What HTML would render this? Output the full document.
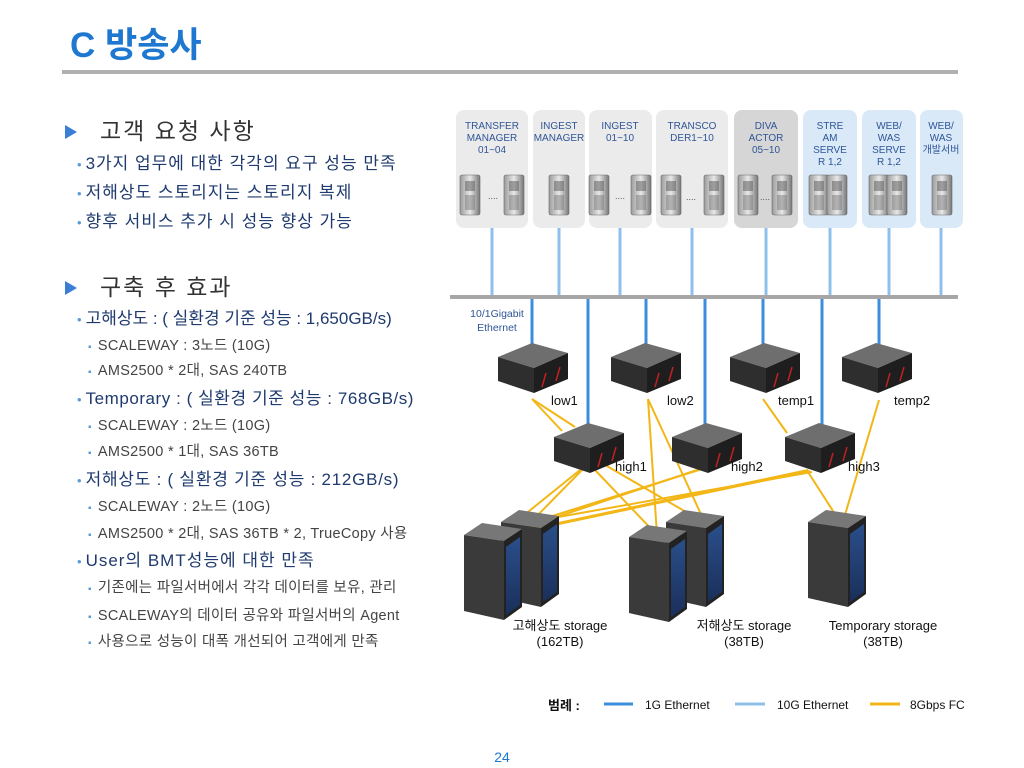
<!DOCTYPE html>
<html><head><meta charset="utf-8">
<style>
body{margin:0;width:1024px;height:768px;background:#fff;position:relative;overflow:hidden;font-family:"Liberation Sans","Noto Sans CJK KR",sans-serif}
.t{position:absolute;white-space:nowrap;line-height:20px}
.h{font-size:23px;letter-spacing:2px;color:#333;left:100px}
.tri{position:absolute;left:65px;width:0;height:0;border-left:12px solid #3a7fd5;border-top:7px solid transparent;border-bottom:7px solid transparent}
.b{font-size:17px;letter-spacing:1px;color:#1f3a6e;left:77px}
.b:before{content:"•";color:#5b9bd5;margin-right:4px;font-size:13px;letter-spacing:0}
.s{font-size:14.5px;letter-spacing:.3px;color:#444;left:88px}
.s:before{content:"▪";color:#5b9bd5;margin-right:6px;font-size:10px}
</style></head><body>
<div class="t" style="left:70px;top:26px;font-size:35px;line-height:40px;font-weight:bold;color:#1e78d0">C 방송사</div>
<div style="position:absolute;left:62px;top:70px;width:896px;height:4px;background:#b0b0b0"></div>

<div class="tri" style="top:125px"></div><div class="t h" style="top:121px">고객 요청 사항</div>
<div class="t b" style="top:154px">3가지 업무에 대한 각각의 요구 성능 만족</div>
<div class="t b" style="top:183px">저해상도 스토리지는 스토리지 복제</div>
<div class="t b" style="top:212px">향후 서비스 추가 시 성능 향상 가능</div>
<div class="tri" style="top:281px"></div><div class="t h" style="top:277px">구축 후 효과</div>
<div class="t b" style="top:309px;letter-spacing:0">고해상도 : ( 실환경 기준 성능 : 1,650GB/s)</div>
<div class="t s" style="top:336px">SCALEWAY : 3노드 (10G)</div>
<div class="t s" style="top:361px">AMS2500 * 2대, SAS 240TB</div>
<div class="t b" style="top:389px;letter-spacing:.55px">Temporary : ( 실환경 기준 성능 : 768GB/s)</div>
<div class="t s" style="top:416px">SCALEWAY : 2노드 (10G)</div>
<div class="t s" style="top:442px">AMS2500 * 1대, SAS 36TB</div>
<div class="t b" style="top:470px;letter-spacing:.75px">저해상도 : ( 실환경 기준 성능 : 212GB/s)</div>
<div class="t s" style="top:497px">SCALEWAY : 2노드 (10G)</div>
<div class="t s" style="top:524px">AMS2500 * 2대, SAS 36TB * 2, TrueCopy 사용</div>
<div class="t b" style="top:551px">User의 BMT성능에 대한 만족</div>
<div class="t s" style="top:578px">기존에는 파일서버에서 각각 데이터를 보유, 관리</div>
<div class="t s" style="top:606px">SCALEWAY의 데이터 공유와 파일서버의 Agent</div>
<div class="t s" style="top:632px">사용으로 성능이 대폭 개선되어 고객에게 만족</div>

<svg width="1024" height="768" style="position:absolute;left:0;top:0" font-family="Liberation Sans, Noto Sans CJK KR, sans-serif">
<defs>
<linearGradient id="sg" x1="0" x2="1"><stop offset="0" stop-color="#9a9a9a"/><stop offset=".5" stop-color="#e8e8e8"/><stop offset="1" stop-color="#777"/></linearGradient>
<linearGradient id="bp" x1="0" y1="0" x2="0" y2="1"><stop offset="0" stop-color="#2a4f8a"/><stop offset="1" stop-color="#1a2f5a"/></linearGradient>
<g id="srv"><rect x="0" y="0" width="20" height="40" rx="2" fill="url(#sg)" stroke="#666" stroke-width=".6"/><rect x="5" y="6" width="10" height="10" fill="#555" opacity=".5"/><rect x="5" y="20" width="10" height="15" fill="#666" opacity=".4"/></g>
<g id="sw"><polygon points="0,14 34,0 70,10 36,25" fill="#6e6e6e"/><polygon points="0,14 36,25 36,50 0,38" fill="#2e2e2e"/><polygon points="36,25 70,10 70,36 36,50" fill="#1e1e1e"/><path d="M44,44 l4,-14 M58,38 l4,-14" stroke="#c02020" stroke-width="1.5"/></g>
<g id="st"><polygon points="0,12 18,0 58,6 40,18" fill="#777"/><polygon points="0,12 40,18 40,97 0,88" fill="#3a3a3a"/><polygon points="40,18 58,6 58,84 40,97" fill="#222"/><polygon points="42,24 56,14 56,82 42,92" fill="url(#bp)"/></g>
</defs>
<g>
<rect x="456" y="110" width="72" height="118" rx="8" fill="#ebebeb"/>
<rect x="533" y="110" width="52" height="118" rx="8" fill="#ebebeb"/>
<rect x="589" y="110" width="63" height="118" rx="8" fill="#ebebeb"/>
<rect x="656" y="110" width="72" height="118" rx="8" fill="#ebebeb"/>
<rect x="734" y="110" width="64" height="118" rx="8" fill="#d6d6d6"/>
<rect x="803" y="110" width="54" height="118" rx="8" fill="#d9e9f8"/>
<rect x="862" y="110" width="54" height="118" rx="8" fill="#d9e9f8"/>
<rect x="920" y="110" width="43" height="118" rx="8" fill="#d9e9f8"/>
</g>
<g font-size="10" fill="#2f5597" text-anchor="middle">
<text x="492" y="129">TRANSFER</text><text x="492" y="141">MANAGER</text><text x="492" y="153">01~04</text>
<text x="559" y="129">INGEST</text><text x="559" y="141">MANAGER</text>
<text x="620" y="129">INGEST</text><text x="620" y="141">01~10</text>
<text x="692" y="129">TRANSCO</text><text x="692" y="141">DER1~10</text>
<text x="766" y="129">DIVA</text><text x="766" y="141">ACTOR</text><text x="766" y="153">05~10</text>
<text x="830" y="129">STRE</text><text x="830" y="141">AM</text><text x="830" y="153">SERVE</text><text x="830" y="165">R 1,2</text>
<text x="889" y="129">WEB/</text><text x="889" y="141">WAS</text><text x="889" y="153">SERVE</text><text x="889" y="165">R 1,2</text>
<text x="941" y="129">WEB/</text><text x="941" y="141">WAS</text><text x="941" y="153">개발서버</text>
</g>
<g>
<use href="#srv" x="460" y="175"/><use href="#srv" x="504" y="175"/>
<use href="#srv" x="549" y="175"/>
<use href="#srv" x="589" y="175"/><use href="#srv" x="631" y="175"/>
<use href="#srv" x="661" y="175"/><use href="#srv" x="704" y="175"/>
<use href="#srv" x="738" y="175"/><use href="#srv" x="772" y="175"/>
<use href="#srv" x="809" y="175"/><use href="#srv" x="827" y="175"/>
<use href="#srv" x="869" y="175"/><use href="#srv" x="887" y="175"/>
<use href="#srv" x="932" y="175"/>
</g>
<g font-size="9" fill="#555"><text x="488" y="199">....</text><text x="615" y="199">....</text><text x="686" y="200">....</text><text x="760" y="200">....</text></g>
<g stroke="#8fc0ec" stroke-width="3">
<line x1="492" y1="228" x2="492" y2="297"/><line x1="559" y1="228" x2="559" y2="297"/><line x1="620" y1="228" x2="620" y2="297"/><line x1="692" y1="228" x2="692" y2="297"/><line x1="766" y1="228" x2="766" y2="297"/><line x1="830" y1="228" x2="830" y2="297"/><line x1="889" y1="228" x2="889" y2="297"/><line x1="941" y1="228" x2="941" y2="297"/>
</g>
<line x1="450" y1="297" x2="958" y2="297" stroke="#a6a6a6" stroke-width="4"/>
<text x="497" y="317" font-size="10.5" fill="#2f5597" text-anchor="middle">10/1Gigabit</text>
<text x="497" y="331" font-size="10.5" fill="#2f5597" text-anchor="middle">Ethernet</text>
<g stroke="#3d8ddd" stroke-width="3">
<line x1="532" y1="299" x2="532" y2="345"/><line x1="588" y1="299" x2="588" y2="425"/><line x1="646" y1="299" x2="646" y2="345"/><line x1="705" y1="299" x2="705" y2="425"/><line x1="763" y1="299" x2="763" y2="345"/><line x1="822" y1="299" x2="822" y2="425"/><line x1="879" y1="299" x2="879" y2="345"/>
</g>
<g stroke="#f2b617" stroke-width="2" fill="none">
<line x1="532" y1="399" x2="562" y2="431"/><line x1="532" y1="399" x2="575" y2="427"/>
<line x1="580" y1="470" x2="497" y2="537"/><line x1="582" y1="470" x2="530" y2="523"/>
<line x1="595" y1="470" x2="657" y2="535"/><line x1="600" y1="462" x2="705" y2="523"/>
<line x1="648" y1="399" x2="657" y2="535"/><line x1="648" y1="399" x2="705" y2="523"/>
<line x1="700" y1="469" x2="497" y2="537"/><line x1="702" y1="469" x2="530" y2="523"/>
<line x1="810" y1="471" x2="497" y2="537"/><line x1="812" y1="472" x2="530" y2="522"/><line x1="808" y1="470" x2="502" y2="535"/>
<line x1="808" y1="472" x2="842" y2="525"/>
<line x1="763" y1="399" x2="787" y2="433"/>
<line x1="879" y1="400" x2="842" y2="525"/>
</g>
<use href="#sw" x="498" y="343"/><use href="#sw" x="611" y="343"/><use href="#sw" x="730" y="343"/><use href="#sw" x="842" y="343"/>
<use href="#sw" x="554" y="423"/><use href="#sw" x="672" y="423"/><use href="#sw" x="785" y="423"/>
<g font-size="13" fill="#111">
<text x="551" y="405">low1</text><text x="667" y="405">low2</text><text x="778" y="405">temp1</text><text x="894" y="405">temp2</text>
<text x="615" y="471">high1</text><text x="731" y="471">high2</text><text x="848" y="471">high3</text>
</g>
<use href="#st" x="501" y="510"/><use href="#st" x="464" y="523"/>
<use href="#st" x="666" y="510"/><use href="#st" x="629" y="525"/>
<use href="#st" x="808" y="510"/>
<g font-size="13" fill="#111" text-anchor="middle">
<text x="560" y="630">고해상도 storage</text><text x="560" y="646">(162TB)</text>
<text x="744" y="630">저해상도 storage</text><text x="744" y="646">(38TB)</text>
<text x="883" y="630">Temporary storage</text><text x="883" y="646">(38TB)</text>
</g>
<text x="548" y="710" font-size="13" font-weight="bold" fill="#111">범례 :</text>
<line x1="604" y1="704" x2="633" y2="704" stroke="#3d8ddd" stroke-width="3"/>
<text x="645" y="709" font-size="12" fill="#111">1G Ethernet</text>
<line x1="735" y1="704" x2="765" y2="704" stroke="#8fc0ec" stroke-width="3"/>
<text x="777" y="709" font-size="12" fill="#111">10G Ethernet</text>
<line x1="870" y1="704" x2="900" y2="704" stroke="#f2b617" stroke-width="3"/>
<text x="910" y="709" font-size="12" fill="#111">8Gbps FC</text>
<text x="502" y="762" font-size="14" fill="#1e78d0" text-anchor="middle">24</text>
</svg>
</body></html>
